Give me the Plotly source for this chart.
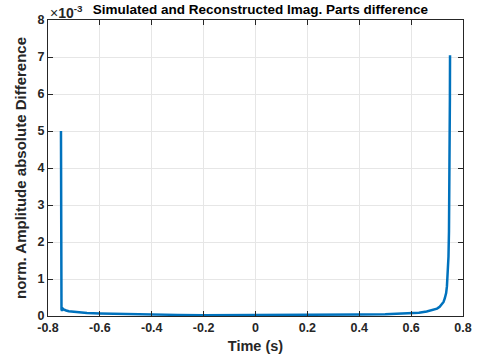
import plotly.graph_objects as go

# Time (s)
time_s = [-0.7500, -0.7499, -0.7497, -0.7493, -0.7488, -0.748, -0.746, -0.743, -0.74, -0.735,
          -0.73, -0.72, -0.70, -0.68, -0.65, -0.60, -0.55, -0.50, -0.40, -0.30, -0.20,
          -0.10, 0.0, 0.10, 0.20, 0.30, 0.40, 0.50, 0.55, 0.60, 0.63, 0.66, 0.68, 0.70,
          0.71, 0.72, 0.725, 0.73, 0.735, 0.738, 0.741, 0.744, 0.746, 0.748, 0.749, 0.7495, 0.75]
# Difference (x1e-3)
diff_e3 = [5.00, 2.30, 1.20, 0.60, 0.30, 0.18, 0.14, 0.20, 0.18, 0.16,
           0.15, 0.13, 0.11, 0.10, 0.08, 0.07, 0.06, 0.05, 0.04, 0.03, 0.02,
           0.02, 0.02, 0.02, 0.02, 0.03, 0.04, 0.05, 0.06, 0.07, 0.09, 0.12, 0.15, 0.20,
           0.25, 0.32, 0.38, 0.48, 0.62, 0.80, 1.10, 1.60, 2.30, 3.60, 4.80, 5.90, 7.05]

x_ticks = [-0.8, -0.6, -0.4, -0.2, 0, 0.2, 0.4, 0.6, 0.8]
x_labels = ["-0.8", "-0.6", "-0.4", "-0.2", "0", "0.2", "0.4", "0.6", "0.8"]
y_ticks = [0, 1, 2, 3, 4, 5, 6, 7, 8]
y_labels = ["0", "1", "2", "3", "4", "5", "6", "7", "8"]

fig = go.Figure()
fig.add_trace(go.Scatter(x=time_s, y=diff_e3, mode="lines",
                         line=dict(color="#0072BD", width=2.5), showlegend=False))

font = "Liberation Sans, Arial, Helvetica, sans-serif"
axis_common = dict(showline=True, linecolor="#262626", linewidth=1, mirror="ticks",
                   ticks="inside", ticklen=5, tickcolor="#262626",
                   showgrid=True, gridcolor="#e6e6e6", gridwidth=1, zeroline=False,
                   automargin=False,
                   tickfont=dict(family=font, size=12.5, color="#262626"))

fig.update_layout(
    width=477, height=364,
    margin=dict(l=48, r=14, t=20, b=48),
    paper_bgcolor="white", plot_bgcolor="white",
    title=dict(text="<b>Simulated and Reconstructed Imag. Parts difference</b>",
               x=0.546, xanchor="center", y=0.975, yanchor="middle",
               font=dict(family=font, size=13.5, color="black")),
    xaxis=dict(range=[-0.8, 0.8], tickvals=x_ticks,
               ticktext=["<b>%s</b>" % t for t in x_labels],
               title=dict(text="<b>Time (s)</b>", font=dict(family=font, size=14.5, color="#262626"),
                          standoff=6),
               **axis_common),
    yaxis=dict(range=[0, 8], tickvals=y_ticks,
               ticktext=["<b>%s</b>" % t for t in y_labels],
               title=dict(text="<b>norm. Amplitude absolute Difference</b>",
                          font=dict(family=font, size=15, color="#262626"), standoff=7),
               **axis_common),
)
fig.add_annotation(text="×<b>10<sup>-3</sup></b>", xref="paper", yref="paper",
                   x=0.0, y=1.0, xanchor="left", yanchor="bottom", showarrow=False,
                   yshift=-3, font=dict(family=font, size=14, color="#262626"))

fig.write_html("out.html")
